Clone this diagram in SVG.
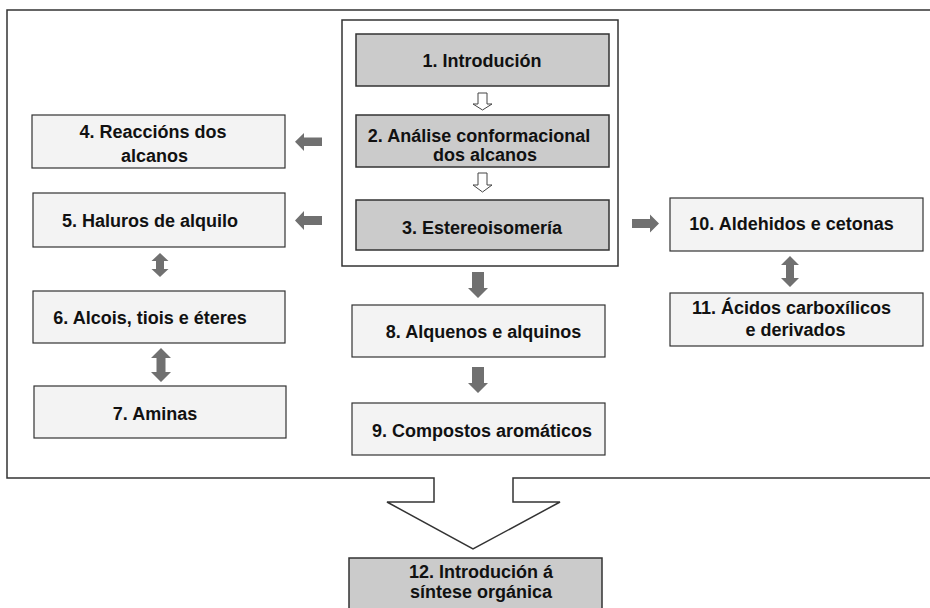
<svg xmlns="http://www.w3.org/2000/svg" width="930" height="608" viewBox="0 0 930 608">
<style>
.frame{fill:#ffffff;stroke:#333333;stroke-width:1.5}
.dark{fill:#cbcbcb;stroke:#333333;stroke-width:1.5}
.light{fill:#f3f3f3;stroke:#333333;stroke-width:1.2}
.hollow{fill:#ffffff;stroke:#444444;stroke-width:1}
.solid{fill:#707070;stroke:none}
text{font-family:"Liberation Sans",Arial,sans-serif;font-weight:bold;font-size:18px;fill:#111111;text-anchor:middle}
</style>
<rect width="930" height="608" fill="#ffffff"/>
<g id="outer-frame">
<path class="frame" d="M935,10 H7 V478 H434 V502 H387 L473,549 L560,502 H513 V478 H935"/>
</g>
<g id="inner-frame">
<rect class="frame" x="342" y="20" width="276" height="246"/>
</g>
<g id="n1"><rect class="dark" x="356" y="34" width="253" height="52"/><text x="482" y="66.5">1. Introdución</text></g>
<g id="n2"><rect class="dark" x="356" y="115" width="253" height="52"/><text x="479" y="141.5">2. Análise conformacional</text><text x="485" y="161">dos alcanos</text></g>
<g id="n3"><rect class="dark" x="356" y="200" width="253" height="50"/><text x="482" y="234">3. Estereoisomería</text></g>
<g id="n4"><rect class="light" x="32" y="115" width="253" height="53"/><text x="153" y="138">4. Reaccións dos</text><text x="154.5" y="161.5">alcanos</text></g>
<g id="n5"><rect class="light" x="33" y="193" width="252" height="54"/><text x="150" y="227">5. Haluros de alquilo</text></g>
<g id="n6"><rect class="light" x="33" y="291" width="252" height="52"/><text x="150" y="324">6. Alcois, tiois e éteres</text></g>
<g id="n7"><rect class="light" x="34" y="386" width="252" height="52"/><text x="155" y="420">7. Aminas</text></g>
<g id="n8"><rect class="light" x="352" y="305" width="253" height="52"/><text x="483.5" y="338">8. Alquenos e alquinos</text></g>
<g id="n9"><rect class="light" x="352" y="403" width="253" height="52"/><text x="482" y="436.5">9. Compostos aromáticos</text></g>
<g id="n10"><rect class="light" x="670" y="198" width="253" height="53"/><text x="791.5" y="230">10. Aldehidos e cetonas</text></g>
<g id="n11"><rect class="light" x="670" y="293" width="253" height="53"/><text x="791.5" y="314">11. Ácidos carboxílicos</text><text x="795.5" y="335.5">e derivados</text></g>
<g id="n12"><rect class="dark" x="349" y="558" width="253" height="60"/><text x="481" y="578">12. Introdución á</text><text x="481" y="598">síntese orgánica</text></g>
<g id="connectors">
<path class="hollow" d="M478,93 H487 V104 H492 L482.5,110 L473,104 H478 Z"/>
<path class="hollow" d="M478,173 H487 V185 H492 L482.5,192 L473,185 H478 Z"/>
<path class="solid" d="M322,137.5 V146 H304 V151 L295,141.8 L304,133 V137.5 Z"/>
<path class="solid" d="M322,216 V225 H304 V230 L295,220.5 L304,211 V216 Z"/>
<path class="solid" d="M632,219 H650 V214.5 L659,223.5 L650,232.5 V228 H632 Z"/>
<path class="solid" d="M472,272 H484 V288 H488 L478,298 L468,288 H472 Z"/>
<path class="solid" d="M472,367 H484 V383 H488 L478,393 L468,383 H472 Z"/>
<path class="solid" d="M160,253 L168.5,261 H164 V269 H168.5 L160,277 L151.5,269 H156 V261 H151.5 Z"/>
<path class="solid" d="M161,348 L171,358 H165.5 V372 H171 L161,382 L151,372 H156.5 V358 H151 Z"/>
<path class="solid" d="M790,256 L799,265 H794 V278 H799 L790,287 L781,278 H786 V265 H781 Z"/>
</g>
</svg>
